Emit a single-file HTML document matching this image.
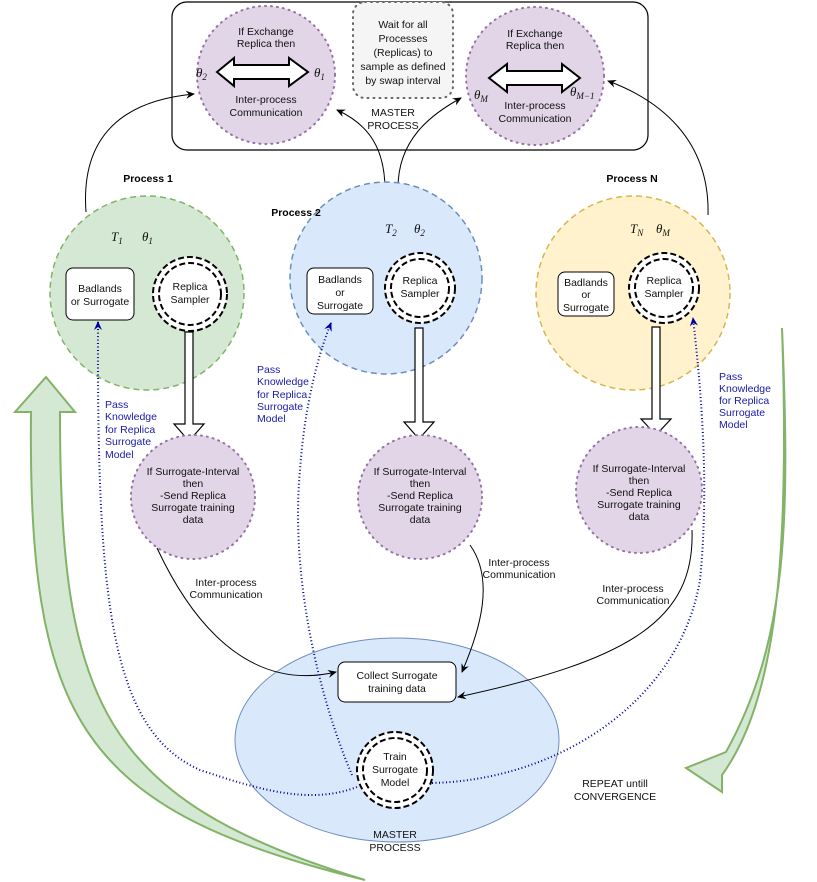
<!DOCTYPE html>
<html><head><meta charset="utf-8"><style>
body{margin:0;background:#fff}
svg{display:block;font-family:"Liberation Sans",sans-serif}
.t{font-size:10.5px;fill:#111;text-anchor:middle}
.b{font-size:10.5px;fill:#1a1aa6}
.m{font-family:"Liberation Serif",serif;font-style:italic;font-size:13px;fill:#111}
</style></head><body>
<svg width="817" height="882" viewBox="0 0 817 882">
<defs>
<marker id="a" markerWidth="10" markerHeight="10" refX="8" refY="5" orient="auto" markerUnits="userSpaceOnUse"><path d="M0,1 L9,5 L0,9 L3,5 Z" fill="#000"/></marker>
<marker id="bl" markerWidth="10" markerHeight="10" refX="8" refY="5" orient="auto" markerUnits="userSpaceOnUse"><path d="M0,1 L9,5 L0,9 L3,5 Z" fill="#0000a0"/></marker>
</defs>

<!-- green big arrows -->
<path d="M46,377 L75,412 L60,412 C60,700 100,800 365,880 C80,810 28,720 31,412 L15,412 Z" fill="#d5e8d4" stroke="#82b366" stroke-width="2"/>
<path d="M782,328 C790,520 788,640 726,752 L686,768 L722,792 L722,775 C776,700 790,560 782,328 Z" fill="#d5e8d4" stroke="#82b366" stroke-width="2"/>

<!-- master box -->
<rect x="172" y="2" width="476" height="148" rx="15" fill="#fff" stroke="#000" stroke-width="1.2"/>
<circle cx="266" cy="75" r="69" fill="#e1d5e7" stroke="#9673a6" stroke-width="2" stroke-dasharray="1 5" stroke-linecap="round"/>
<circle cx="535" cy="76" r="69" fill="#e1d5e7" stroke="#9673a6" stroke-width="2" stroke-dasharray="1 5" stroke-linecap="round"/>
<rect x="353" y="2" width="100" height="96" rx="12" fill="#f5f5f5" stroke="#666" stroke-width="2" stroke-dasharray="1 5" stroke-linecap="round"/>
<text class="t"><tspan x="403" y="28">Wait for all</tspan><tspan x="403" y="42">Processes</tspan><tspan x="403" y="56">(Replicas) to</tspan><tspan x="403" y="70">sample as defined</tspan><tspan x="403" y="84">by swap interval</tspan></text>
<text class="t"><tspan x="266" y="35">If Exchange</tspan><tspan x="266" y="47">Replica then</tspan><tspan x="266" y="103">Inter-process</tspan><tspan x="266" y="116">Communication</tspan></text>
<path d="M217,72 L234,58 L234,65 L289,65 L289,58 L308,72 L289,86 L289,79 L234,79 L234,86 Z" fill="#fff" stroke="#000" stroke-width="2"/>
<text class="m" x="196" y="77">θ<tspan font-size="9" dy="3">2</tspan></text>
<text class="m" x="314" y="77">θ<tspan font-size="9" dy="3">1</tspan></text>
<text class="t"><tspan x="535" y="37">If Exchange</tspan><tspan x="535" y="49">Replica then</tspan><tspan x="535" y="109">Inter-process</tspan><tspan x="535" y="122">Communication</tspan></text>
<path d="M489,78 L507,64 L507,71 L562,71 L562,64 L580,78 L562,92 L562,85 L507,85 L507,92 Z" fill="#fff" stroke="#000" stroke-width="2"/>
<text class="m" x="474" y="99">θ<tspan font-size="9" dy="3">M</tspan></text>
<text class="m" x="570" y="96">θ<tspan font-size="9" dy="3">M−1</tspan></text>
<text class="t"><tspan x="393" y="116">MASTER</tspan><tspan x="393" y="129">PROCESS</tspan></text>

<!-- top connectors -->
<path d="M86,212 C80,130 130,100 194,94" fill="none" stroke="#000" marker-end="url(#a)"/>
<path d="M385,190 C385,150 370,125 337,110" fill="none" stroke="#000" marker-end="url(#a)"/>
<path d="M398,188 C398,140 430,115 461,98" fill="none" stroke="#000" marker-end="url(#a)"/>
<path d="M708,215 C710,140 660,100 608,81" fill="none" stroke="#000" marker-end="url(#a)"/>

<!-- process circles -->
<circle cx="147" cy="293" r="97" fill="#d5e8d4" stroke="#82b366" stroke-width="1.5" stroke-dasharray="6 4"/>
<circle cx="386" cy="278" r="96" fill="#dae8fc" stroke="#6c8ebf" stroke-width="1.5" stroke-dasharray="6 4"/>
<circle cx="633" cy="293" r="97" fill="#fff2cc" stroke="#d6b656" stroke-width="1.5" stroke-dasharray="6 4"/>
<text x="148" y="182" font-size="10.5" font-weight="bold" text-anchor="middle">Process 1</text>
<text x="296" y="216" font-size="10.5" font-weight="bold" text-anchor="middle">Process 2</text>
<text x="632" y="182" font-size="10.5" font-weight="bold" text-anchor="middle">Process N</text>
<text class="m" x="111" y="241">T<tspan font-size="9" dy="3">1</tspan></text><text class="m" x="142" y="241">θ<tspan font-size="9" dy="3">1</tspan></text>
<text class="m" x="385" y="233">T<tspan font-size="9" dy="3">2</tspan></text><text class="m" x="414" y="233">θ<tspan font-size="9" dy="3">2</tspan></text>
<text class="m" x="630" y="233">T<tspan font-size="9" dy="3">N</tspan></text><text class="m" x="656" y="233">θ<tspan font-size="9" dy="3">M</tspan></text>

<rect x="66" y="268" width="68" height="52" rx="7" fill="#fff" stroke="#000"/>
<text class="t"><tspan x="100" y="292">Badlands</tspan><tspan x="100" y="305">or Surrogate</tspan></text>
<rect x="307" y="268" width="66" height="46" rx="7" fill="#fff" stroke="#000"/>
<text class="t"><tspan x="340" y="283">Badlands</tspan><tspan x="340" y="296">or</tspan><tspan x="340" y="309">Surrogate</tspan></text>
<rect x="558" y="272" width="56" height="44" rx="7" fill="#fff" stroke="#000"/>
<text class="t"><tspan x="586" y="286">Badlands</tspan><tspan x="586" y="298">or</tspan><tspan x="586" y="311">Surrogate</tspan></text>

<g fill="#fff" stroke="#000" stroke-width="2" stroke-dasharray="6 3">
<circle cx="190" cy="294" r="37"/><circle cx="190" cy="294" r="31"/>
<circle cx="420" cy="288" r="35"/><circle cx="420" cy="288" r="29"/>
<circle cx="664" cy="288" r="35"/><circle cx="664" cy="288" r="29"/>
</g>
<text class="t"><tspan x="190" y="290">Replica</tspan><tspan x="190" y="303">Sampler</tspan></text>
<text class="t"><tspan x="420" y="284">Replica</tspan><tspan x="420" y="297">Sampler</tspan></text>
<text class="t"><tspan x="664" y="284">Replica</tspan><tspan x="664" y="297">Sampler</tspan></text>

<!-- hollow down arrows -->
<g fill="#fff" stroke="#000" stroke-width="1.2">
<path d="M185,332 L193,332 L193,424 L204,424 L189,441 L174,424 L185,424 Z"/>
<path d="M415,328 L423,328 L423,422 L434,422 L419,439 L404,422 L415,422 Z"/>
<path d="M652,327 L660,327 L660,419 L671,419 L656,435 L641,419 L652,419 Z"/>
</g>

<!-- small purple circles -->
<g fill="#e1d5e7" stroke="#9673a6" stroke-width="2" stroke-dasharray="1 5" stroke-linecap="round">
<circle cx="193" cy="497" r="62"/><circle cx="420" cy="497" r="62"/><circle cx="639" cy="490" r="63"/>
</g>
<text class="t"><tspan x="193" y="475">If Surrogate-Interval</tspan><tspan x="193" y="487">then</tspan><tspan x="193" y="499">-Send Replica</tspan><tspan x="193" y="511">Surrogate training</tspan><tspan x="193" y="523">data</tspan></text>
<text class="t"><tspan x="420" y="475">If Surrogate-Interval</tspan><tspan x="420" y="487">then</tspan><tspan x="420" y="499">-Send Replica</tspan><tspan x="420" y="511">Surrogate training</tspan><tspan x="420" y="523">data</tspan></text>
<text class="t"><tspan x="639" y="472">If Surrogate-Interval</tspan><tspan x="639" y="484">then</tspan><tspan x="639" y="496">-Send Replica</tspan><tspan x="639" y="508">Surrogate training</tspan><tspan x="639" y="520">data</tspan></text>

<!-- master bottom -->
<ellipse cx="397" cy="740" rx="162" ry="102" fill="#dae8fc" stroke="#6c8ebf"/>
<rect x="338" y="662" width="118" height="40" rx="7" fill="#fff" stroke="#000"/>
<text class="t"><tspan x="397" y="679">Collect Surrogate</tspan><tspan x="397" y="692">training data</tspan></text>
<g fill="#fff" stroke="#000" stroke-width="2" stroke-dasharray="6 3"><circle cx="395" cy="770" r="38"/><circle cx="395" cy="770" r="32"/></g>
<text class="t"><tspan x="395" y="760">Train</tspan><tspan x="395" y="773">Surrogate</tspan><tspan x="395" y="786">Model</tspan></text>
<text class="t"><tspan x="395" y="838">MASTER</tspan><tspan x="395" y="851">PROCESS</tspan></text>

<!-- inter-process connectors -->
<path d="M157,548 C200,640 260,690 336,672" fill="none" stroke="#000" marker-end="url(#a)"/>
<text class="t" font-size="10"><tspan x="226" y="586">Inter-process</tspan><tspan x="226" y="598">Communication</tspan></text>
<path d="M470,545 C495,580 480,630 462,672" fill="none" stroke="#000" marker-end="url(#a)"/>
<text class="t" font-size="10"><tspan x="519" y="566">Inter-process</tspan><tspan x="519" y="578">Communication</tspan></text>
<path d="M692,530 C695,620 630,660 458,697" fill="none" stroke="#000" marker-end="url(#a)"/>
<text class="t" font-size="10"><tspan x="633" y="592">Inter-process</tspan><tspan x="633" y="604">Communication</tspan></text>

<!-- blue dotted -->
<g fill="none" stroke="#0000a0" stroke-width="2" stroke-dasharray="1 2.5">
<path d="M357,787 C310,805 260,790 200,770 C110,730 97,600 98,322" marker-end="url(#bl)"/>
<path d="M352,775 C320,700 290,580 300,470 C305,400 320,350 331,323" marker-end="url(#bl)"/>
<path d="M432,783 C560,780 680,700 700,580 C710,480 700,380 693,318" marker-end="url(#bl)"/>
</g>
<text class="b"><tspan x="105" y="408">Pass</tspan><tspan x="105" y="420">Knowledge</tspan><tspan x="105" y="433">for Replica</tspan><tspan x="105" y="445">Surrogate</tspan><tspan x="105" y="458">Model</tspan></text>
<text class="b"><tspan x="257" y="373">Pass</tspan><tspan x="257" y="385">Knowledge</tspan><tspan x="257" y="398">for Replica</tspan><tspan x="257" y="410">Surrogate</tspan><tspan x="257" y="422">Model</tspan></text>
<text class="b"><tspan x="719" y="380">Pass</tspan><tspan x="719" y="392">Knowledge</tspan><tspan x="719" y="404">for Replica</tspan><tspan x="719" y="416">Surrogate</tspan><tspan x="719" y="428">Model</tspan></text>

<text class="t"><tspan x="615" y="787">REPEAT untill</tspan><tspan x="615" y="800">CONVERGENCE</tspan></text>
</svg>
</body></html>
